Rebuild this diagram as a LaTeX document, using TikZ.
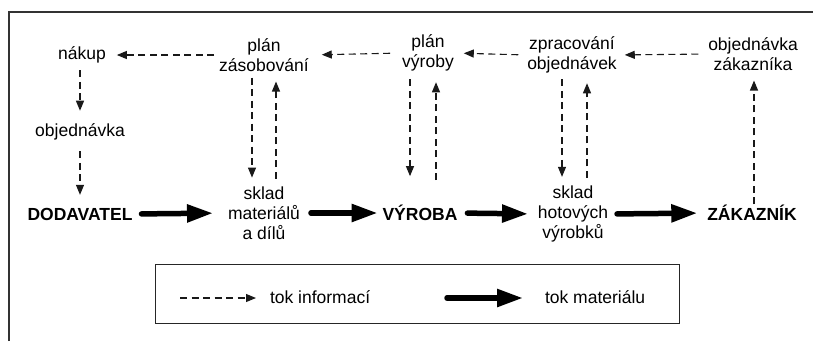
\documentclass[tikz,border=0pt]{standalone}
\usepackage{fontspec}
\setmainfont{Liberation Sans}
\usetikzlibrary{arrows.meta}
\begin{document}
\begin{tikzpicture}[x=1pt,y=-1pt,
  lbl/.style={inner sep=0pt,outer sep=0pt,align=center,text=black,
    font=\fontsize{17.5}{20}\selectfont},
  bold/.style={lbl,font=\fontsize{17.5}{20}\selectfont\bfseries},
  info/.style={line width=1.1pt,dash pattern=on 7pt off 4.5pt,draw=black!90,
    -{Triangle[length=10pt,width=8pt]}},
  mat/.style={line width=5.5pt,line cap=round,draw=black,
    -{Triangle[length=26pt,width=17pt]}}]
\useasboundingbox (0,0) rectangle (813,341);
\draw[line width=1.2pt,black!80] (9,341) -- (9,12) -- (813,12);

% top row
\node[lbl] (nak) at (82,55) {nákup};
\node[lbl] (pz) at (264,55) {plán\\zásobování};
\node[lbl] (pv) at (428,53) {plán\\výroby};
\node[lbl] (zo) at (572,55) {zpracování\\objednávek};
\node[lbl] (oz) at (753,54) {objednávka\\zákazníka};
\node[lbl] (obj) at (80,132) {objednávka};

% bottom row
\node[bold] (dod) at (80,214) {DODAVATEL};
\node[lbl] (skm) at (264,213) {sklad\\materiálů\\a dílů};
\node[bold] (vyr) at (420,213) {VÝROBA};
\node[lbl] (skh) at (573,214) {sklad\\hotových\\výrobků};
\node[bold] (zak) at (752,213) {ZÁKAZNÍK};

% information flow, top row
\draw[info,shorten <=5pt,shorten >=11pt] (pz.west) -- (nak.east);
\draw[info,shorten <=12pt,shorten >=13pt] (pv.west) -- (pz.east);
\draw[info,shorten <=9pt,shorten >=10pt] (zo.west) -- (pv.east);
\draw[info,shorten <=10pt,shorten >=8pt] (oz.west) -- (zo.east);

% information flow, verticals
\draw[info,shorten <=7pt,shorten >=13pt] ([xshift=-2pt]nak.south) -- (obj.north);
\draw[info,shorten <=11pt,shorten >=13pt] (obj.south) -- (dod.north);
\draw[info,shorten <=6pt,shorten >=9pt] ([xshift=-12pt]pz.south) -- ([xshift=-12pt]skm.north);
\draw[info,shorten <=8pt,shorten >=10pt] ([xshift=12pt]skm.north) -- ([xshift=12pt]pz.south);
\draw[info,shorten <=8pt,shorten >=29pt] ([xshift=-18pt]pv.south) -- ([xshift=-10pt]vyr.north);
\draw[info,shorten <=25pt,shorten >=11pt] ([xshift=16pt]vyr.north) -- ([xshift=8pt]pv.south);
\draw[info,shorten <=6pt,shorten >=9pt] ([xshift=-10pt]zo.south) -- ([xshift=-11pt]skh.north);
\draw[info,shorten <=8pt,shorten >=10pt] ([xshift=14pt]skh.north) -- ([xshift=15pt]zo.south);
\draw[info,shorten <=1pt,shorten >=10pt] ([xshift=2pt]zak.north) -- ([xshift=1pt]oz.south);

% material flow
\draw[mat,shorten <=9pt,shorten >=15pt] (dod.east) -- (skm.west);
\draw[mat,shorten <=11pt,shorten >=5pt] (skm.east) -- (vyr.west);
\draw[mat,shorten <=10pt,shorten >=10pt] (vyr.east) -- (skh.west);
\draw[mat,shorten <=9pt,shorten >=10pt] (skh.east) -- (zak.west);

% legend
\node[draw=black!85,line width=1pt,minimum width=524pt,minimum height=59pt,inner sep=0pt] (leg) at (417,293.5) {};
\coordinate (la1) at (180,298);
\coordinate (la2) at (256,298);
\coordinate (lb1) at (447,298);
\coordinate (lb2) at (523,298);
\draw[info] (la1) -- (la2);
\node[lbl,anchor=west] (ti) at (270,297) {tok informací};
\draw[mat] (lb1) -- (lb2);
\node[lbl,anchor=west] (tm) at (545,297) {tok materiálu};
\end{tikzpicture}
\end{document}
